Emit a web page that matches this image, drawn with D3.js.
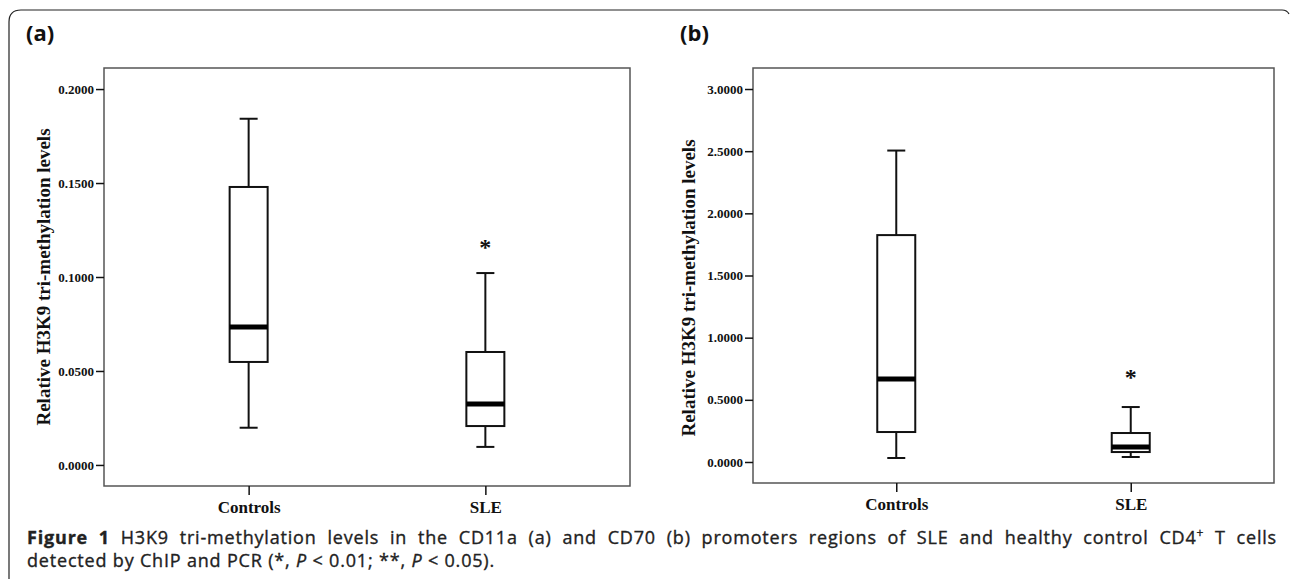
<!DOCTYPE html>
<html>
<head>
<meta charset="utf-8">
<script src="https://cdn.jsdelivr.net/npm/d3@7"></script>
<style>
  body { margin: 0; background: #fff; }
  svg { display: block; }
</style>
</head>
<body>
<svg id="chart"></svg>
<script>
// box plot data (Controls, SLE)
const groups = ['Controls', 'SLE'];

// (a) CD11a promoter
const cd11aLow = [0.0198, 0.0096];
const cd11aQ1 = [0.0548, 0.0207];
const cd11aMedian = [0.0734, 0.0324];
const cd11aQ3 = [0.1479, 0.0601];
const cd11aHigh = [0.1842, 0.1021];
const cd11aStars = [null, 0.118];
const cd11aTicks = [0, 0.05, 0.10, 0.15, 0.20];

// (b) CD70 promoter
const cd70Low = [0.032, 0.040];
const cd70Q1 = [0.241, 0.080];
const cd70Median = [0.667, 0.121];
const cd70Q3 = [1.825, 0.233];
const cd70High = [2.505, 0.442];
const cd70Stars = [null, 0.716];
const cd70Ticks = [0, 0.5, 1.0, 1.5, 2.0, 2.5, 3.0];

const W = 1290, H = 579;
const svg = d3.select('#chart').attr('width', W).attr('height', H);

// outer frame (only top/left visible in the figure)
svg.append('path')
  .attr('d', `M9,${H + 5} L9,22 Q9,10 21,10 L1282,10 Q1287,10 1289,14`)
  .attr('fill', 'none')
  .attr('stroke', '#222')
  .attr('stroke-width', 1.2);

const serif = '"Liberation Serif", "Times New Roman", serif';
const sans = '"Open Sans", "Noto Sans", sans-serif';

function drawPanel(p) {
  const x = d3.scalePoint()
    .domain(groups)
    .range([p.left, p.right])
    .padding(0.611);

  const y = d3.scaleLinear()
    .domain(p.domain)
    .range([p.bottom, p.top]);

  const g = svg.append('g');

  // panel label
  svg.append('text')
    .attr('x', p.labelX)
    .attr('y', 41)
    .attr('font-family', sans)
    .attr('font-weight', 700)
    .attr('font-size', 22)
    .attr('fill', '#111')
    .text(p.label);

  // frame
  g.append('rect')
    .attr('x', p.left)
    .attr('y', p.top)
    .attr('width', p.right - p.left)
    .attr('height', p.bottom - p.top)
    .attr('fill', 'none')
    .attr('stroke', '#555')
    .attr('stroke-width', 1.5);

  // y axis
  const yAxis = g.append('g')
    .attr('transform', `translate(${p.left},0)`)
    .call(d3.axisLeft(y).tickValues(p.ticks).tickFormat(d3.format('.4f')).tickSize(8).tickPadding(2));
  yAxis.select('.domain').remove();
  yAxis.selectAll('line').attr('stroke', '#111').attr('stroke-width', 1.5);
  yAxis.selectAll('text')
    .attr('font-family', serif)
    .attr('font-weight', 700)
    .attr('font-size', 13)
    .attr('fill', '#111');

  // x axis
  const xAxis = g.append('g')
    .attr('transform', `translate(0,${p.bottom})`)
    .call(d3.axisBottom(x).tickSize(9).tickPadding(6));
  xAxis.select('.domain').remove();
  xAxis.selectAll('line').attr('stroke', '#111').attr('stroke-width', 1.5);
  xAxis.selectAll('text')
    .attr('font-family', serif)
    .attr('font-weight', 700)
    .attr('font-size', 17)
    .attr('fill', '#111');

  // y title
  g.append('text')
    .attr('transform', `translate(${p.titleX},${p.titleY}) rotate(-90)`)
    .attr('text-anchor', 'middle')
    .attr('dominant-baseline', 'central')
    .attr('font-family', serif)
    .attr('font-weight', 700)
    .attr('font-size', 19)
    .attr('fill', '#111')
    .text('Relative H3K9 tri-methylation levels');

  const boxW = 38, capW = 18;
  const rows = groups.map((k, i) => ({
    key: k, low: p.low[i], q1: p.q1[i], med: p.median[i], q3: p.q3[i], high: p.high[i], star: p.stars[i]
  }));

  const box = g.selectAll('.box').data(rows).enter().append('g').attr('class', 'box');

  // whiskers
  box.append('line')
    .attr('x1', d => x(d.key)).attr('x2', d => x(d.key))
    .attr('y1', d => y(d.q3)).attr('y2', d => y(d.high))
    .attr('stroke', '#111').attr('stroke-width', 2);
  box.append('line')
    .attr('x1', d => x(d.key)).attr('x2', d => x(d.key))
    .attr('y1', d => y(d.q1)).attr('y2', d => y(d.low))
    .attr('stroke', '#111').attr('stroke-width', 2);
  box.append('line')
    .attr('x1', d => x(d.key) - capW / 2).attr('x2', d => x(d.key) + capW / 2)
    .attr('y1', d => y(d.high)).attr('y2', d => y(d.high))
    .attr('stroke', '#111').attr('stroke-width', 2);
  box.append('line')
    .attr('x1', d => x(d.key) - capW / 2).attr('x2', d => x(d.key) + capW / 2)
    .attr('y1', d => y(d.low)).attr('y2', d => y(d.low))
    .attr('stroke', '#111').attr('stroke-width', 2);

  // box
  box.append('rect')
    .attr('x', d => x(d.key) - boxW / 2)
    .attr('width', boxW)
    .attr('y', d => y(d.q3))
    .attr('height', d => y(d.q1) - y(d.q3))
    .attr('fill', '#fff')
    .attr('stroke', '#111')
    .attr('stroke-width', 2);

  // median
  box.append('line')
    .attr('x1', d => x(d.key) - boxW / 2).attr('x2', d => x(d.key) + boxW / 2)
    .attr('y1', d => y(d.med)).attr('y2', d => y(d.med))
    .attr('stroke', '#000').attr('stroke-width', 5);

  // significance stars
  box.filter(d => d.star != null).append('text')
    .attr('x', d => x(d.key))
    .attr('y', d => y(d.star) + 12)
    .attr('text-anchor', 'middle')
    .attr('font-family', serif)
    .attr('font-weight', 700)
    .attr('font-size', 24)
    .attr('fill', '#111')
    .text('*');
}

drawPanel({
  label: '(a)', labelX: 26,
  left: 104, right: 630, top: 68, bottom: 486,
  domain: [-0.0112, 0.2112], ticks: cd11aTicks,
  titleX: 43, titleY: 277,
  low: cd11aLow, q1: cd11aQ1, median: cd11aMedian, q3: cd11aQ3, high: cd11aHigh, stars: cd11aStars
});

drawPanel({
  label: '(b)', labelX: 680,
  left: 753, right: 1274, top: 68, bottom: 483,
  domain: [-0.169, 3.169], ticks: cd70Ticks,
  titleX: 688, titleY: 288,
  low: cd70Low, q1: cd70Q1, median: cd70Median, q3: cd70Q3, high: cd70High, stars: cd70Stars
});

// caption (thin stroke gives the medium weight of the original typeface)
const cap = svg.append('g')
  .attr('font-family', sans)
  .attr('font-size', 18)
  .attr('fill', '#222')
  .attr('stroke', '#222')
  .attr('stroke-width', 0.35);

const line1 = cap.append('text').attr('x', 27).attr('y', 544);
line1.append('tspan').attr('font-weight', 700).text('Figure 1');
line1.append('tspan').text(' H3K9 tri-methylation levels in the CD11a (a) and CD70 (b) promoters regions of SLE and healthy control CD4');
line1.append('tspan').attr('font-size', 12).attr('dy', -7).text('+');
line1.append('tspan').attr('dy', 7).text(' T cells');

const line2 = cap.append('text').attr('x', 27).attr('y', 567);
line2.append('tspan').text('detected by ChIP and PCR (*, ');
line2.append('tspan').attr('font-style', 'italic').text('P');
line2.append('tspan').text(' < 0.01; **, ');
line2.append('tspan').attr('font-style', 'italic').text('P');
line2.append('tspan').text(' < 0.05).');

// fit line widths: line 2 by letter spacing, line 1 justified by word spacing
const w2 = line2.node().getBBox().width;
const n2 = line2.text().length;
const ls = (495 - 27 - w2) / n2;
cap.attr('letter-spacing', ls);
const w1 = line1.node().getBBox().width;
const spaces = (line1.text().match(/ /g) || []).length;
line1.attr('word-spacing', (1277 - 27 - w1) / spaces);
</script>
</body>
</html>
